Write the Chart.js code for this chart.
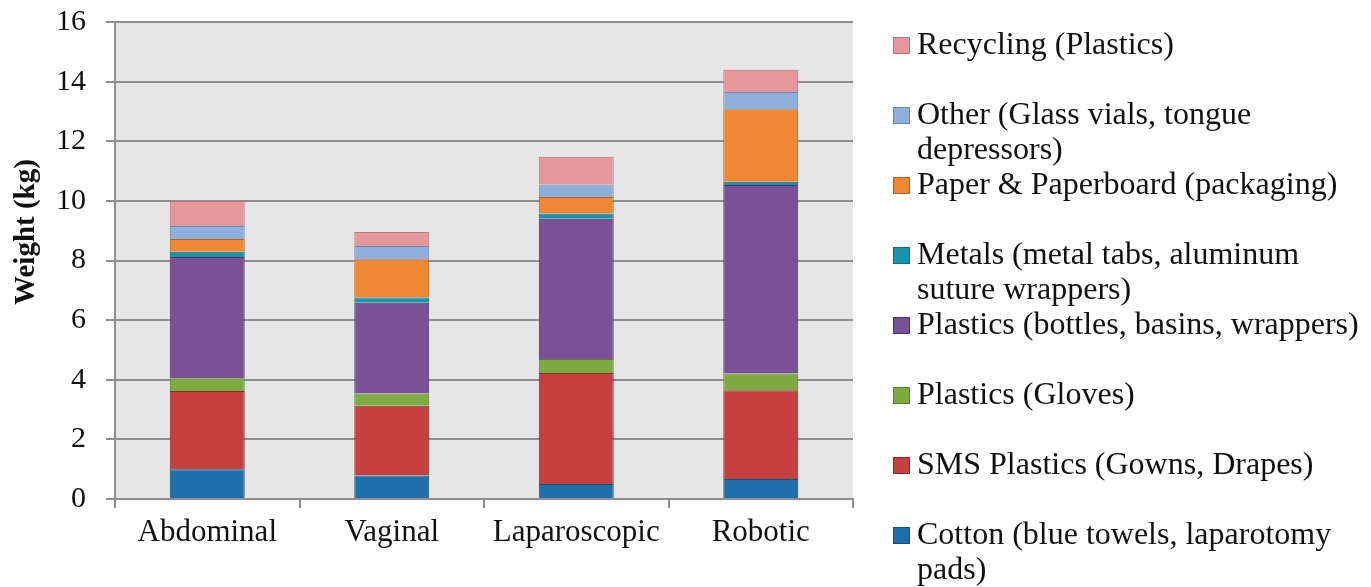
<!DOCTYPE html>
<html>
<head>
<meta charset="utf-8">
<script src="https://cdn.jsdelivr.net/npm/chart.js@4.4.1/dist/chart.umd.min.js"></script>
<style>
  html, body { margin: 0; padding: 0; background: #ffffff; }
  #wrap { width: 1371px; height: 587px; }
</style>
</head>
<body>
<div id="wrap"><canvas id="chartResiduos" width="1371" height="587"></canvas></div>
<script>
// ── Datos ──
const categories = ['Abdominal', 'Vaginal', 'Laparoscopic', 'Robotic'];
const yTicks = [0, 2, 4, 6, 8, 10, 12, 14, 16];

const cotton          = [1.00, 0.79, 0.50, 0.67];
const smsPlastics     = [2.62, 2.34, 3.73, 2.98];
const gloves          = [0.43, 0.41, 0.47, 0.56];
const plasticsBottles = [4.07, 3.04, 4.70, 6.32];
const metals          = [0.17, 0.18, 0.18, 0.11];
const paper           = [0.43, 1.28, 0.55, 2.43];
const other           = [0.44, 0.45, 0.42, 0.58];
const recycling       = [0.84, 0.47, 0.93, 0.75];

// legend text, split the way the original wraps it
const seriesNames = [
    ['Cotton (blue towels, laparotomy', 'pads)'],
    ['SMS Plastics (Gowns, Drapes)'],
    ['Plastics (Gloves)'],
    ['Plastics (bottles, basins, wrappers)'],
    ['Metals (metal tabs, aluminum', 'suture wrappers)'],
    ['Paper & Paperboard (packaging)'],
    ['Other (Glass vials, tongue', 'depressors)'],
    ['Recycling (Plastics)']
];
const seriesData = [cotton, smsPlastics, gloves, plasticsBottles, metals, paper, other, recycling];

const fills   = ['#1f6fad', '#c5403e', '#7dab42', '#7a5196', '#1a94aa', '#f08733', '#8eaedb', '#e5979b'];
const borders = ['#14507e', '#8f2a29', '#5a7f2c', '#4e3266', '#0f6c7c', '#b5621e', '#6a89b3', '#c07478'];

const FONT = "'Liberation Serif', 'Times New Roman', serif";
const INK = '#111111';

// ── Plugin: fondo gris del área + leyenda + título eje Y ──
const decoPlugin = {
    id: 'deco',
    beforeDraw: function(chart) {
        var a = chart.chartArea, ctx = chart.ctx;
        ctx.save();
        ctx.fillStyle = '#e6e6e6';
        ctx.fillRect(a.left, a.top, a.right - a.left, a.bottom - a.top);
        ctx.restore();
    },
    afterDraw: function(chart) {
        var ctx = chart.ctx, a = chart.chartArea;
        ctx.save();
        // y axis title
        ctx.font = 'bold 29px ' + FONT;
        ctx.fillStyle = INK;
        ctx.textAlign = 'center';
        ctx.textBaseline = 'middle';
        ctx.translate(27, 232);
        ctx.rotate(-Math.PI / 2);
        ctx.fillText('Weight (kg)', 0, 0);
        ctx.restore();

        // legend (top = last dataset)
        ctx.save();
        ctx.font = '32px ' + FONT;
        ctx.textBaseline = 'middle';
        ctx.textAlign = 'left';
        var ds = chart.data.datasets;
        var x0 = a.right + 40;
        for (var k = 0; k < ds.length; k++) {
            var d = ds[ds.length - 1 - k];
            var yc = 45 + k * 70;
            ctx.fillStyle = d.backgroundColor;
            ctx.strokeStyle = d.borderColor;
            ctx.lineWidth = 1;
            ctx.fillRect(x0, yc - 8, 17, 17);
            ctx.strokeRect(x0 + 0.5, yc - 7.5, 16, 16);
            ctx.fillStyle = INK;
            for (var l = 0; l < d.lines.length; l++) {
                ctx.fillText(d.lines[l], x0 + 24, yc + 1 + l * 35);
            }
        }
        ctx.restore();
    }
};

const datasets = seriesData.map(function(vals, i) {
    return {
        label: seriesNames[i].join(' '),
        lines: seriesNames[i],
        data: vals,
        backgroundColor: fills[i],
        borderColor: borders[i],
        borderWidth: 1,
        categoryPercentage: 1.0,
        barPercentage: 0.406
    };
});

new Chart(document.getElementById('chartResiduos').getContext('2d'), {
    type: 'bar',
    data: { labels: categories, datasets: datasets },
    plugins: [decoPlugin],
    options: {
        responsive: false,
        animation: false,
        devicePixelRatio: 1,
        layout: { padding: { top: 22, right: 518, left: 0, bottom: 0 } },
        plugins: {
            legend: { display: false },
            tooltip: { enabled: false }
        },
        scales: {
            x: {
                stacked: true,
                afterFit: function(s) { s.height = 88; s.paddingLeft = 0; s.paddingRight = 0; },
                grid: { drawOnChartArea: false, drawTicks: true, tickLength: 9, offset: true, color: '#8e8e8e', lineWidth: 2 },
                border: { color: '#8e8e8e', width: 2 },
                ticks: { font: { family: FONT, size: 31 }, color: INK, padding: 6 }
            },
            y: {
                stacked: true,
                min: 0,
                max: 16,
                afterFit: function(s) { s.width = 115; s.paddingTop = 0; s.paddingBottom = 0; },
                afterBuildTicks: function(s) { s.ticks = yTicks.map(function(v) { return { value: v }; }); },
                grid: { color: '#8e8e8e', lineWidth: 2, tickLength: 9, drawTicks: true },
                border: { color: '#8e8e8e', width: 2 },
                ticks: { font: { family: FONT, size: 30 }, color: INK, padding: 20 }
            }
        }
    }
});
</script>
</body>
</html>
